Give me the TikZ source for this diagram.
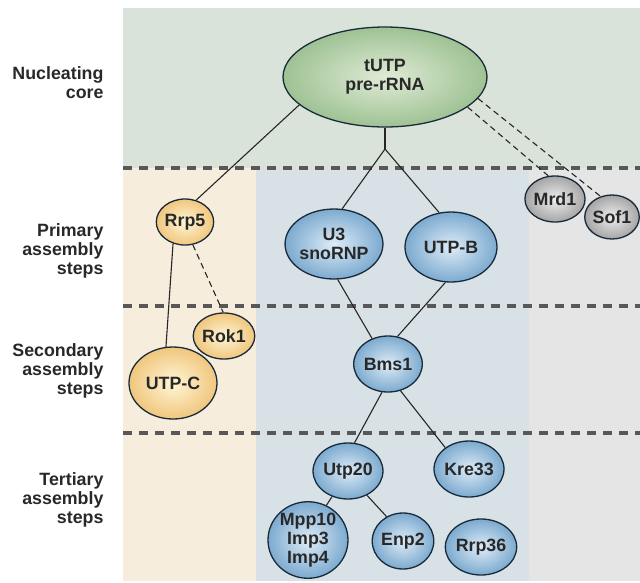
\documentclass[tikz,border=0pt]{standalone}
\usepackage{fontspec}
\setmainfont{Liberation Sans}
\usetikzlibrary{shapes.geometric}

\definecolor{corebg}{RGB}{217,227,217}
\definecolor{rrpbg}{RGB}{247,237,221}
\definecolor{utpbg}{RGB}{216,225,230}
\definecolor{sidebg}{RGB}{229,229,229}
\definecolor{stepline}{RGB}{88,88,88}
\definecolor{rim}{RGB}{25,42,58}
\definecolor{ink}{RGB}{40,40,40}

\tikzset{
    protein/.style={ellipse, draw=rim, line width=1.3pt, inner sep=0pt,
        text=ink, align=center},
    greenball/.style={protein, inner color={rgb,255:red,224;green,235;blue,214},
        outer color={rgb,255:red,158;green,194;blue,148}},
    orangeball/.style={protein, inner color={rgb,255:red,255;green,246;blue,214},
        outer color={rgb,255:red,240;green,198;blue,125}},
    blueball/.style={protein, inner color={rgb,255:red,222;green,236;blue,247},
        outer color={rgb,255:red,124;green,170;blue,207}},
    grayball/.style={protein, inner color={rgb,255:red,238;green,238;blue,238},
        outer color={rgb,255:red,165;green,165;blue,165}},
    steplabel/.style={anchor=east, align=right, text=ink},
    stepsep/.style={stepline, line width=3.5pt, dash pattern=on 9pt off 7pt},
    link/.style={draw=black!85, line width=1.1pt},
    weaklink/.style={link, dash pattern=on 6pt off 4pt}
}

\begin{document}
\begin{tikzpicture}[x=1pt, y=-1pt, font=\fontsize{17.8}{19}\selectfont\bfseries]

\useasboundingbox (0,0) rectangle (640,582);

% background bands
\fill[corebg] (123,8) rectangle (640,168);
\fill[rrpbg] (123,168) rectangle (256,581);
\fill[utpbg] (256,168) rectangle (529,581);
\fill[sidebg] (529,168) rectangle (640,581);

\foreach \y in {168, 306, 433}
    \draw[stepsep] (123,\y) -- (640,\y);

% row labels
\node[steplabel] (core) at (107,83) {Nucleating\\core};
\node[steplabel] (primary) at (107,251) {Primary\\assembly\\steps};
\node[steplabel] (secondary) at (107,371) {Secondary\\assembly\\steps};
\node[steplabel] (tertiary) at (107,500) {Tertiary\\assembly\\steps};

% proteins
\node[greenball, minimum width=204pt, minimum height=100pt] (tutp) at (385,77) {tUTP\\pre-rRNA};

\node[orangeball, minimum width=54pt, minimum height=46pt] (rrp5) at (185,222) {Rrp5};
\node[orangeball, minimum width=54pt, minimum height=46pt] (rok1) at (224,336) {Rok1};
\node[orangeball, minimum width=88pt, minimum height=72pt] (utpc) at (173,383) {UTP-C};

\node[blueball, minimum width=88pt, minimum height=70pt] (u3) at (334,244) {U3\\snoRNP};
\node[blueball, minimum width=92pt, minimum height=70pt] (utpb) at (451,247) {UTP-B};
\node[blueball, minimum width=60pt, minimum height=56pt] (bms1) at (388,364) {Bms1};
\node[blueball, minimum width=66pt, minimum height=56pt] (utp20) at (348,471) {Utp20};
\node[blueball, minimum width=60pt, minimum height=56pt] (kre33) at (469,469) {Kre33};
\node[blueball, minimum width=80pt, minimum height=76pt] (mpp10) at (308,540) {Mpp10\\Imp3\\Imp4};
\node[blueball, minimum width=60pt, minimum height=56pt] (enp2) at (403,541) {Enp2};
\node[blueball, minimum width=60pt, minimum height=56pt] (rrp36) at (481,547) {Rrp36};

\node[grayball, minimum width=46pt, minimum height=46pt] (mrd1) at (555,199) {Mrd1};
\node[grayball, minimum width=52pt, minimum height=44pt] (sof1) at (612,217) {Sof1};

\coordinate (fork) at (385,149);

% connections
\draw[link] (tutp.south) -- (fork);
\draw[link] (fork) -- (u3.77);
\draw[link] (fork) -- (utpb.109);
\draw[link] (tutp.-162) -- (rrp5.63);
\draw[weaklink] (tutp.-20) -- (mrd1.106);
\draw[weaklink] (tutp.-13) -- (sof1.119);

\draw[link] (rrp5.-119) -- (utpc.101);
\draw[weaklink] (rrp5.-71) -- (rok1.92);

\draw[link] (u3.-84) -- (bms1.122);
\draw[link] (utpb.-99) -- (bms1.71);
\draw[link] (bms1.-102) -- (utp20.77);
\draw[link] (bms1.-65) -- (kre33.138);
\draw[link] (utp20.-122) -- (mpp10.62);
\draw[link] (utp20.-52) -- (enp2.124);

\end{tikzpicture}
\end{document}
